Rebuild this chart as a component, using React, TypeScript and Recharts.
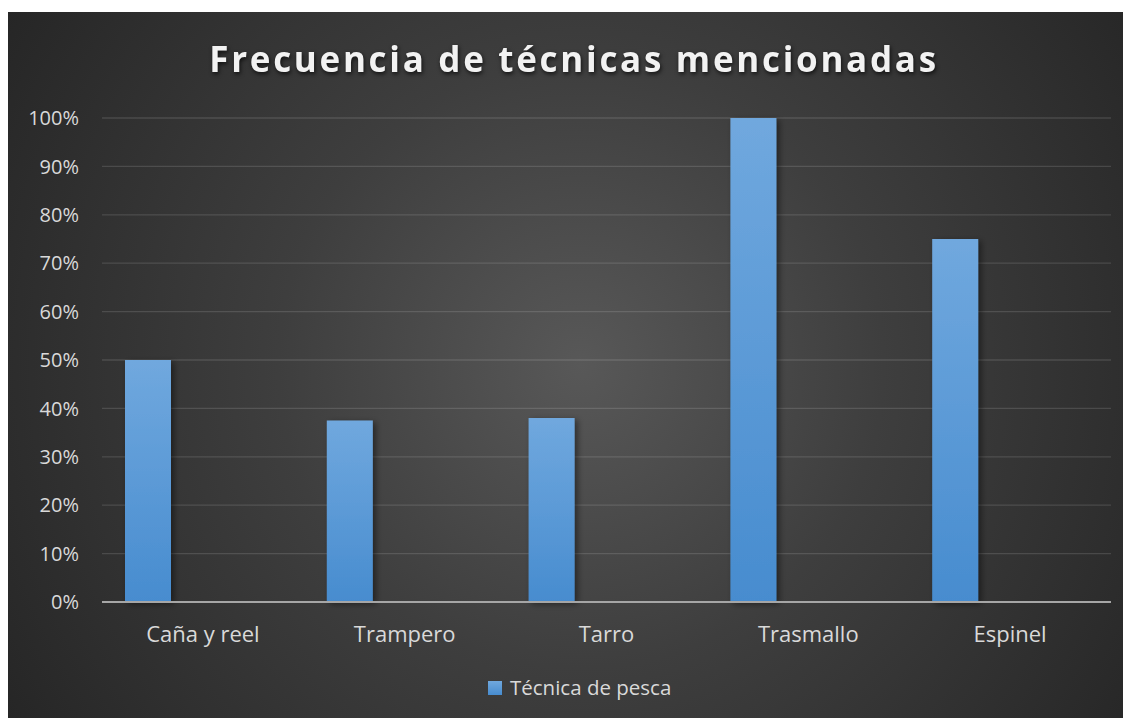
import { BarChart, Bar, XAxis, YAxis, CartesianGrid, Rectangle } from "recharts";

const categories = ["Caña y reel", "Trampero", "Tarro", "Trasmallo", "Espinel"];
const shares = [0.5, 0.375, 0.38, 1.0, 0.75];
const yTicks = [0, 0.1, 0.2, 0.3, 0.4, 0.5, 0.6, 0.7, 0.8, 0.9, 1];
const seriesName = "Técnica de pesca";
const title = "Frecuencia de técnicas mencionadas";

const data = categories.map((name, i) => ({ name, value: shares[i] }));

const W = 1123;
const H = 706;
const font = "'Open Sans', 'Noto Sans', sans-serif";

const ShadowBar = (props: any) => (
  <Rectangle {...props} fill="url(#barFill)" filter="url(#barShadow)" />
);

export default function App() {
  return (
    <div style={{ paddingTop: 4 }}>
      <div
        style={{
          position: "relative",
          width: W,
          height: H,
          background:
            "radial-gradient(circle farthest-corner at 51% 50%, #585858 0%, #3e3e3e 45%, #262626 100%)",
          overflow: "hidden",
        }}
      >
        <BarChart
          width={W}
          height={H}
          data={data}
          margin={{ top: 106, right: 20, left: 0, bottom: 66 }}
          barGap={0}
        >
          <defs>
            <linearGradient id="barFill" x1="0" y1="0" x2="0" y2="1">
              <stop offset="0%" stopColor="#70a8de" />
              <stop offset="100%" stopColor="#478ccf" />
            </linearGradient>
            <filter id="barShadow" x="-20%" y="-5%" width="160%" height="115%">
              <feDropShadow dx="3" dy="2" stdDeviation="3" floodColor="#000" floodOpacity="0.45" />
            </filter>
          </defs>
          <CartesianGrid vertical={false} stroke="rgba(255,255,255,0.13)" strokeWidth={1.3} />
          <XAxis
            dataKey="name"
            height={50}
            tickLine={false}
            tickSize={0}
            tickMargin={24}
            axisLine={{ stroke: "#a6a6a6", strokeWidth: 2 }}
            tick={{ fill: "#d9d9d9", fontSize: 22, fontFamily: font }}
            interval={0}
          />
          <YAxis
            width={94}
            domain={[0, 1]}
            ticks={yTicks}
            axisLine={false}
            tickLine={false}
            tickSize={0}
            tickMargin={23}
            tickFormatter={(v: number) => `${Math.round(v * 100)}%`}
            tick={{ fill: "#d9d9d9", fontSize: 20, fontFamily: font }}
          />
          <Bar
            dataKey="value"
            name={seriesName}
            barSize={46}
            shape={ShadowBar}
            isAnimationActive={false}
          />
          <Bar dataKey="spacer" barSize={110} legendType="none" isAnimationActive={false} />
        </BarChart>
        <svg
          width={W}
          height={H}
          style={{ position: "absolute", left: 0, top: 0, pointerEvents: "none" }}
        >
          <text
            x={566}
            y={60}
            textAnchor="middle"
            fill="#f2f2f2"
            fontFamily={font}
            fontWeight={700}
            fontSize={35}
            letterSpacing={2.7}
            style={{ filter: "drop-shadow(1px 2px 2px rgba(0,0,0,0.7))" }}
          >
            {title}
          </text>
          <rect x={480} y={669} width={14} height={14} fill="url(#legendFill)" />
          <defs>
            <linearGradient id="legendFill" x1="0" y1="0" x2="0" y2="1">
              <stop offset="0%" stopColor="#70a8de" />
              <stop offset="100%" stopColor="#478ccf" />
            </linearGradient>
          </defs>
          <text x={502} y={683} fill="#d9d9d9" fontFamily={font} fontSize={20.5}>
            {seriesName}
          </text>
        </svg>
      </div>
    </div>
  );
}
